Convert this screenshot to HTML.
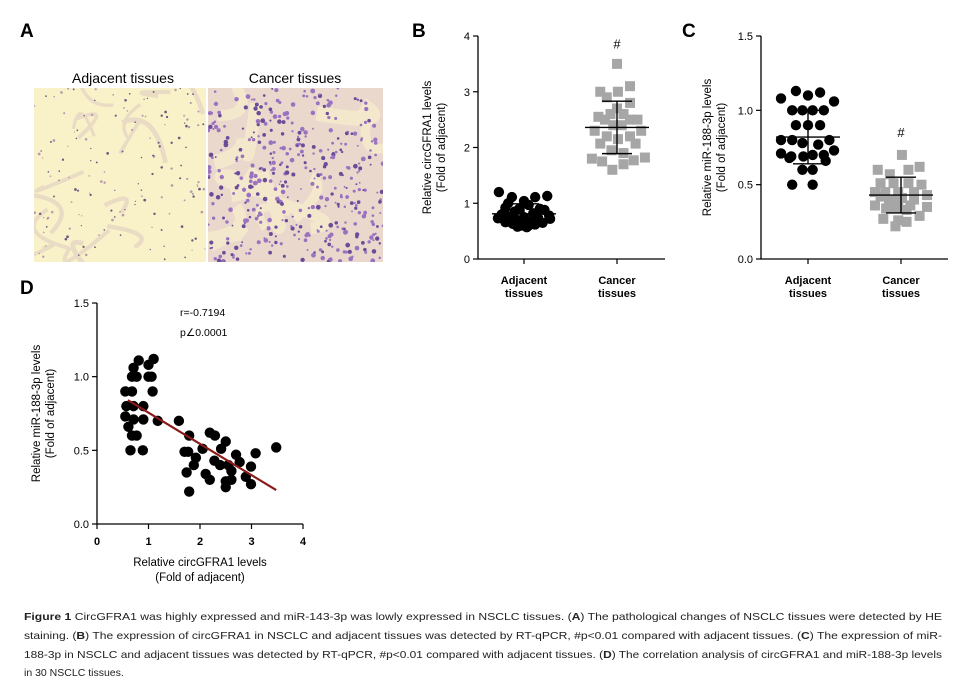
<!DOCTYPE html>
<html><head><meta charset="utf-8"><style>
html,body{margin:0;padding:0;background:#fff}
svg{display:block;font-family:"Liberation Sans",Arial,sans-serif}
</style></head><body>
<svg id="fig" width="966" height="682" viewBox="0 0 966 682">
<defs>
<clipPath id="cl1"><rect x="34" y="88" width="172" height="174"/></clipPath>
<clipPath id="cl2"><rect x="208" y="88" width="175" height="174"/></clipPath>
</defs>
<g>
<text x="20" y="37" font-size="19" font-weight="bold">A</text>
<text x="123" y="83" font-size="14" text-anchor="middle">Adjacent tissues</text>
<text x="295" y="83" font-size="14" text-anchor="middle">Cancer tissues</text>
<rect x="34" y="88" width="172" height="174" fill="#f9f2c8"/>
<rect x="208" y="88" width="175" height="174" fill="#ead8cc"/>
<g id="tex1" clip-path="url(#cl1)"></g>
<g id="tex2" clip-path="url(#cl2)"></g>
</g>
<g id="pb"></g>
<g id="pc"></g>
<g id="pd"></g>
<g font-size="10.5" fill="#222">
<text x="24" y="620" textLength="918" lengthAdjust="spacingAndGlyphs"><tspan font-weight="bold">Figure 1</tspan> CircGFRA1 was highly expressed and miR-143-3p was lowly expressed in NSCLC tissues. (<tspan font-weight="bold">A</tspan>) The pathological changes of NSCLC tissues were detected by HE</text>
<text x="24" y="639" textLength="918" lengthAdjust="spacingAndGlyphs">staining. (<tspan font-weight="bold">B</tspan>) The expression of circGFRA1 in NSCLC and adjacent tissues was detected by RT-qPCR, #p&lt;0.01 compared with adjacent tissues. (<tspan font-weight="bold">C</tspan>) The expression of miR-</text>
<text x="24" y="658" textLength="918" lengthAdjust="spacingAndGlyphs">188-3p in NSCLC and adjacent tissues was detected by RT-qPCR, #p&lt;0.01 compared with adjacent tissues. (<tspan font-weight="bold">D</tspan>) The correlation analysis of circGFRA1 and miR-188-3p levels</text>
<text x="24" y="676">in 30 NSCLC tissues.</text>
</g>
</svg>
<script>
const NS='http://www.w3.org/2000/svg';
// Panel B data
const bCategories=['Adjacent tissues','Cancer tissues'];
const bAdjValues=[1.20,1.11,1.04,1.11,1.13,1.0,0.97,0.92,0.9,0.9,0.88,0.85,0.82,0.8,0.78,0.76,0.75,0.74,0.73,0.72,0.7,0.68,0.66,0.65,0.63,0.62,0.6,0.6,0.58,0.57];
const bAdjJitter=[-0.27,-0.13,0,0.12,0.25,-0.17,0.05,-0.2,0.17,-0.05,0.22,-0.1,0.1,-0.24,0.27,-0.15,0.0,0.15,-0.28,0.28,-0.08,0.08,-0.2,0.2,-0.12,0.12,-0.03,0.05,-0.07,0.03];
const bCanValues=[3.5,3.1,3.0,3.0,2.9,2.8,2.7,2.6,2.55,2.6,2.5,2.5,2.5,2.4,2.4,2.3,2.3,2.2,2.15,2.2,2.07,2.07,1.95,1.9,1.8,1.75,1.82,1.77,1.7,1.6];
const bCanJitter=[0,0.14,-0.18,0.01,-0.11,0.14,0,-0.07,-0.2,0.07,-0.13,0.22,0.14,-0.04,0.05,-0.24,0.26,-0.11,0.01,0.14,-0.18,0.2,-0.06,0.07,-0.27,-0.16,0.3,0.18,0.07,-0.05];
const bMeans=[0.81,2.36];
const bSD=[0.18,0.47];
const bTicks=[0,1,2,3,4];
// Panel C data
const cAdjValues=[1.08,1.13,1.10,1.12,1.06,1.0,1.0,1.0,1.0,0.9,0.9,0.9,0.8,0.8,0.78,0.77,0.8,0.71,0.69,0.69,0.70,0.70,0.73,0.68,0.66,0.6,0.6,0.5,0.5];
const cAdjJitter=[-0.29,-0.13,0,0.13,0.28,-0.17,-0.06,0.05,0.17,-0.13,0,0.13,-0.29,-0.17,-0.06,0.11,0.23,-0.29,-0.18,-0.05,0.05,0.17,0.28,-0.2,0.19,-0.06,0.05,-0.17,0.05];
const cCanValues=[0.70,0.6,0.57,0.6,0.62,0.51,0.51,0.51,0.5,0.45,0.45,0.45,0.45,0.43,0.36,0.34,0.39,0.36,0.35,0.27,0.34,0.25,0.29,0.22,0.26,0.4,0.4,0.41,0.42,0.33];
const cCanJitter=[0.01,-0.25,-0.12,0.08,0.2,-0.22,-0.08,0.08,0.22,-0.28,-0.17,-0.03,0.14,0.28,-0.28,-0.16,-0.03,0.1,0.28,-0.19,-0.06,0.06,0.2,-0.06,-0.03,-0.13,0.14,0.01,-0.22,0.06];
const cMeans=[0.82,0.43];
const cSD=[0.18,0.12];
const cTicks=[0,0.5,1.0,1.5];
// Panel D data
const dX=[0.55,0.68,0.57,0.71,0.55,0.61,0.71,0.68,0.77,0.65,0.89,0.71,0.81,0.68,0.77,0.90,0.90,1.0,1.1,1.0,1.06,1.08,1.18,1.59,1.79,1.70,1.77,1.74,1.79,1.92,1.88,2.05,2.19,2.29,2.28,2.11,2.19,2.39,2.41,2.50,2.55,2.61,2.50,2.50,2.61,2.70,2.77,2.89,2.99,2.99,3.08,3.48];
const dY=[0.90,0.90,0.80,0.80,0.73,0.66,0.71,0.60,0.60,0.50,0.50,1.06,1.11,1.00,1.00,0.80,0.71,1.08,1.12,1.00,1.00,0.90,0.70,0.70,0.60,0.49,0.49,0.35,0.22,0.45,0.40,0.51,0.62,0.60,0.43,0.34,0.30,0.40,0.51,0.56,0.40,0.36,0.29,0.25,0.30,0.47,0.42,0.32,0.39,0.27,0.48,0.52];
const dFitX=[0.6,3.48];
const dFitY=[0.84,0.23];
const dXTicks=[0,1,2,3,4];
const dYTicks=[0,0.5,1.0,1.5];

function el(tag,attrs,parent){
  const e=document.createElementNS(NS,tag);
  for(const k in attrs)e.setAttribute(k,attrs[k]);
  parent.appendChild(e);
  return e;
}
function txt(parent,x,y,s,attrs){
  const t=el('text',Object.assign({x:x,y:y},attrs||{}),parent);
  t.textContent=s;return t;
}

function dotPlot(g,cfg){
  const y=v=>cfg.y0-(v-cfg.ymin)/(cfg.ymax-cfg.ymin)*(cfg.y0-cfg.y1);
  const cx=i=>cfg.cat0+i*cfg.catStep;
  const lab=txt(g,cfg.labelX,37,cfg.label,{'font-size':19,'font-weight':'bold'});
  
  
  const ax=el('path',{d:`M${cfg.ax},${cfg.y1}V${cfg.y0}H${cfg.xend}`,stroke:'#000','stroke-width':1.3,fill:'none'},g);
  
  
  cfg.ticks.forEach(t=>{
    el('line',{x1:cfg.ax-5,x2:cfg.ax,y1:y(t),y2:y(t),stroke:'#000','stroke-width':1.2},g);
    const tl=txt(g,cfg.ax-8,y(t)+4,cfg.fmt(t),{'font-size':11,'text-anchor':'end'});
    
    
  });
  const yt=el('text',{transform:`translate(${cfg.titleX},${(cfg.y0+cfg.y1)/2}) rotate(-90)`,'font-size':11.5,'text-anchor':'middle'},g);
  
  
  const s1=el('tspan',{x:0,dy:0},yt);s1.textContent=cfg.ytitle;
  const s2=el('tspan',{x:0,dy:14},yt);s2.textContent='(Fold of adjacent)';
  bCategories.forEach((c,i)=>{
    el('line',{x1:cx(i),x2:cx(i),y1:cfg.y0,y2:cfg.y0+5,stroke:'#000','stroke-width':1.2},g);
    const words=c.split(' ');
    const t1=txt(g,cx(i),cfg.y0+25,words[0],{'font-size':11,'font-weight':'bold','text-anchor':'middle'});
    
    
    const t2=txt(g,cx(i),cfg.y0+38,words[1],{'font-size':11,'font-weight':'bold','text-anchor':'middle'});
    
    
  });
  cfg.adj.forEach((v,i)=>{
    const c=el('circle',{cx:cx(0)+cfg.adjJ[i]*cfg.catStep,cy:y(v),r:5.2,fill:'#000'},g);
    
    
  });
  cfg.can.forEach((v,i)=>{
    const r=el('rect',{x:cx(1)+cfg.canJ[i]*cfg.catStep-5,y:y(v)-5,width:10,height:10,fill:'#a6a6a6'},g);
    
    
  });
  [0,1].forEach(i=>{
    const m=cfg.means[i],s=cfg.sd[i],x=cx(i);
    const p=el('path',{d:`M${x-32},${y(m)}H${x+32}M${x},${y(m-s)}V${y(m+s)}M${x-15},${y(m-s)}H${x+15}M${x-15},${y(m+s)}H${x+15}`,stroke:'#000','stroke-width':1.4,fill:'none'},g);
    
    
  });
  const h=txt(g,cx(cfg.hashCat),y(cfg.hashY),'#',{'font-size':13,'text-anchor':'middle'});
  
  
}

dotPlot(document.getElementById('pb'),{label:'B',labelX:412,ax:478,y0:259,y1:36,ymin:0,ymax:4,xend:665,cat0:524,catStep:93,ticks:bTicks,fmt:t=>String(t),titleX:431,ytitle:'Relative circGFRA1 levels',adj:bAdjValues,adjJ:bAdjJitter,can:bCanValues,canJ:bCanJitter,means:bMeans,sd:bSD,hashCat:1,hashY:3.78});
dotPlot(document.getElementById('pc'),{label:'C',labelX:682,ax:761,y0:259,y1:36,ymin:0,ymax:1.5,xend:948,cat0:808,catStep:93,ticks:cTicks,fmt:t=>t.toFixed(1),titleX:711,ytitle:'Relative miR-188-3p levels',adj:cAdjValues,adjJ:cAdjJitter,can:cCanValues,canJ:cCanJitter,means:cMeans,sd:cSD,hashCat:1,hashY:0.82});

// Panel D scatter
(function(){
  const g=document.getElementById('pd');
  const x0=97,x1=303,y0=524,y1=303;
  const X=v=>x0+v/4*(x1-x0);
  const Y=v=>y0-v/1.5*(y0-y1);
  const lab=txt(g,20,294,'D',{'font-size':19,'font-weight':'bold'});
  
  
  const ax=el('path',{d:`M${x0},${y1}V${y0}H${x1}`,stroke:'#000','stroke-width':1.3,fill:'none'},g);
  
  
  dYTicks.forEach(t=>{
    el('line',{x1:x0-5,x2:x0,y1:Y(t),y2:Y(t),stroke:'#000','stroke-width':1.2},g);
    const tl=txt(g,x0-8,Y(t)+4,t.toFixed(1),{'font-size':11,'text-anchor':'end'});
    
    
  });
  dXTicks.forEach(t=>{
    el('line',{x1:X(t),x2:X(t),y1:y0,y2:y0+5,stroke:'#000','stroke-width':1.2},g);
    const tl=txt(g,X(t),y0+21,String(t),{'font-size':11,'font-weight':'bold','text-anchor':'middle'});
    
    
  });
  const xt1=txt(g,200,566,'Relative circGFRA1 levels',{'font-size':11.5,'text-anchor':'middle'});
  
  
  const xt2=txt(g,200,581,'(Fold of adjacent)',{'font-size':11.5,'text-anchor':'middle'});
  
  
  const yt=el('text',{transform:`translate(40,${(y0+y1)/2}) rotate(-90)`,'font-size':11.5,'text-anchor':'middle'},g);
  
  
  const s1=el('tspan',{x:0,dy:0},yt);s1.textContent='Relative miR-188-3p levels';
  const s2=el('tspan',{x:0,dy:14},yt);s2.textContent='(Fold of adjacent)';
  const r1=txt(g,180,316,'r=-0.7194',{'font-size':10.5});
  
  
  const r2=txt(g,180,336,'p∠0.0001',{'font-size':10.5});
  
  
  dX.forEach((v,i)=>{
    const c=el('circle',{cx:X(v),cy:Y(dY[i]),r:5.2,fill:'#000'},g);
    
    
  });
  const l=el('line',{x1:X(dFitX[0]),y1:Y(dFitY[0]),x2:X(dFitX[1]),y2:Y(dFitY[1]),stroke:'#8b1a1a','stroke-width':2.2},g);
  
  
})();

// Histology texture (decorative)
(function(){
  let s=12345;const r=()=>{s=(s*16807)%2147483647;return s/2147483647;};
  const t1=document.getElementById('tex1'),t2=document.getElementById('tex2');
  for(let i=0;i<16;i++){
    el('path',{d:`M${34+r()*172},${88+r()*174} q${(r()-0.5)*80},${(r()-0.5)*80} ${(r()-0.5)*90},${(r()-0.5)*90}`,stroke:'#eadbc4','stroke-width':2+r()*3,fill:'none'},t1);
  }
  for(let i=0;i<150;i++){
    el('circle',{cx:34+r()*172,cy:88+r()*174,r:0.6+r()*0.8,fill:r()<0.5?'#6a5a80':'#b89ab0'},t1);
  }
  for(let i=0;i<14;i++){
    el('path',{d:`M${208+r()*175},${88+r()*174} q${(r()-0.5)*90},${(r()-0.5)*90} ${(r()-0.5)*100},${(r()-0.5)*100}`,stroke:'#f3e8cc','stroke-width':8+r()*8,fill:'none'},t2);
  }
  for(let i=0;i<420;i++){
    el('circle',{cx:208+r()*175,cy:88+r()*174,r:0.9+r()*1.5,fill:r()<0.6?'#9a72c0':'#6a4c98'},t2);
  }
})();
</script>
</body></html>
